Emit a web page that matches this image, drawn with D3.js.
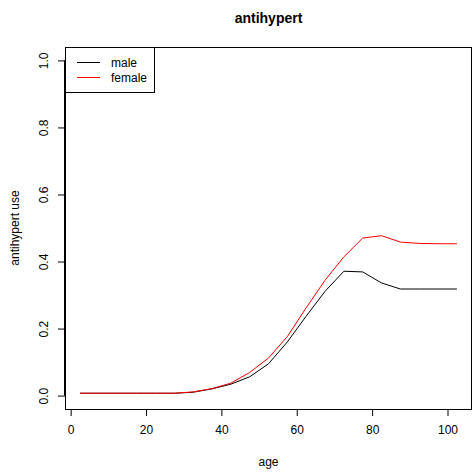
<!DOCTYPE html>
<html>
<head>
<meta charset="utf-8">
<script src="https://cdnjs.cloudflare.com/ajax/libs/d3/7.8.5/d3.min.js"></script>
<style>
  body { margin: 0; background: #fff; }
  text { font-family: "Liberation Sans", Arial, Helvetica, sans-serif; }
</style>
</head>
<body>
<script>
    // age bin midpoints and the share using antihypertensives
    var ages = [2.5, 7.5, 12.5, 17.5, 22.5, 27.5, 32.5, 37.5, 42.5, 47.5, 52.5,
                57.5, 62.5, 67.5, 72.5, 77.5, 82.5, 87.5, 92.5, 97.5, 102.5];
    var male = [0.007, 0.007, 0.007, 0.007, 0.007, 0.007, 0.010, 0.020, 0.034, 0.056, 0.095,
                0.160, 0.237, 0.311, 0.371, 0.369, 0.336, 0.318, 0.318, 0.318, 0.318];
    var female = [0.007, 0.007, 0.007, 0.007, 0.007, 0.007, 0.011, 0.021, 0.037, 0.069, 0.112,
                  0.176, 0.262, 0.344, 0.414, 0.470, 0.477, 0.458, 0.454, 0.453, 0.453];
    var xTicks = [0, 20, 40, 60, 80, 100];
    var yTicks = [0, 0.2, 0.4, 0.6, 0.8, 1.0];
    var seriesNames = ['male', 'female'];
    var seriesColors = ['#000000', '#ff0000'];

    (function draw() {
        var W = 473, H = 472;
        var pl = 65, pr = 472, pt = 47, pb = 409;

        var svg = d3.select('body').append('svg')
                    .attr('width', W).attr('height', H);

        // R style: 4% padding around the data range
        var x = d3.scaleLinear().domain([2.5 - 4, 102.5 + 4]).range([pl, pr]);
        var y = d3.scaleLinear().domain([-0.04, 1.04]).range([pb, pt]);

        var line = d3.line()
                     .x(function (d) { return x(d[0]); })
                     .y(function (d) { return y(d[1]); });

        [male, female].forEach(function (vals, i) {
            svg.append('path')
               .datum(d3.zip(ages, vals))
               .attr('d', line)
               .attr('fill', 'none')
               .attr('stroke', seriesColors[i])
               .attr('stroke-width', 1);
        });

        // axes
        var xAxis = d3.axisBottom(x).tickValues(xTicks).tickSize(7).tickPadding(9)
                      .tickFormat(d3.format('d'));
        var gx = svg.append('g').attr('transform', 'translate(0,' + pb + ')').call(xAxis);
        gx.select('.domain').attr('d', 'M' + x(0) + ',0.5H' + x(100));

        var yAxis = d3.axisLeft(y).tickValues(yTicks).tickSize(7).tickFormat(d3.format('.1f'));
        var gy = svg.append('g').attr('transform', 'translate(' + pl + ',0)').call(yAxis);
        gy.select('.domain').attr('d', 'M-0.5,' + y(0) + 'V' + y(1));
        gy.selectAll('.tick text')
          .attr('transform', 'rotate(-90)')
          .attr('x', 0).attr('y', -17)
          .attr('dy', 0)
          .style('text-anchor', 'middle');

        svg.selectAll('.tick text').attr('font-size', 12).attr('fill', '#000')
           .style('font-family', '"Liberation Sans", Arial, sans-serif');
        svg.selectAll('.tick line').attr('stroke', '#000');
        svg.selectAll('.domain').attr('stroke', '#000');

        // plot box
        svg.append('rect')
           .attr('x', pl + 0.5).attr('y', pt + 0.5)
           .attr('width', pr - pl - 1).attr('height', pb - pt)
           .attr('fill', 'none').attr('stroke', '#000');

        // titles
        svg.append('text').attr('x', (pl + pr) / 2).attr('y', 23)
           .attr('text-anchor', 'middle').attr('font-size', 14).attr('font-weight', 'bold')
           .text('antihypert');
        svg.append('text').attr('x', (pl + pr) / 2).attr('y', 466)
           .attr('text-anchor', 'middle').attr('font-size', 12).text('age');
        svg.append('text')
           .attr('transform', 'translate(19,' + (pt + pb) / 2 + ') rotate(-90)')
           .attr('text-anchor', 'middle').attr('font-size', 12).text('antihypert use');

        // legend
        var lg = svg.append('g');
        lg.append('rect').attr('x', pl + 0.5).attr('y', pt + 0.5)
          .attr('width', 89).attr('height', 45)
          .attr('fill', '#fff').attr('stroke', '#000');
        seriesNames.forEach(function (name, i) {
            var ly = 62.5 + i * 15;
            lg.append('line').attr('x1', 77).attr('x2', 100)
              .attr('y1', ly).attr('y2', ly)
              .attr('stroke', seriesColors[i]);
            lg.append('text').attr('x', 111).attr('y', ly + 4)
              .attr('font-size', 12).text(name);
        });
    })();
</script>
</body>
</html>
